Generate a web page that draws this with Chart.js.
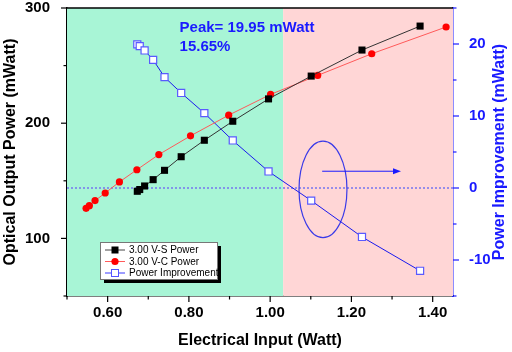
<!DOCTYPE html>
<html><head><meta charset="utf-8">
<script src="https://cdn.jsdelivr.net/npm/chart.js@4"></script>
<style>html,body{margin:0;padding:0;background:#fff}#wrap{width:512px;height:352px}</style>
</head><body><div id="wrap"><canvas id="c" width="512" height="352"></canvas></div>
<script>
// ---- data ----
const xVS  = [0.673,0.679,0.691,0.712,0.740,0.781,0.838,0.908,0.996,1.101,1.226,1.369];
const yVS  = [140.9,142.4,145.5,151.0,159.1,170.9,185.2,201.7,221.1,240.9,263.5,284.3];
const xVC  = [0.547,0.555,0.569,0.594,0.629,0.672,0.726,0.804,0.898,1.001,1.117,1.250,1.433];
const yVC  = [126.1,128.4,132.8,139.4,149.0,159.6,172.8,189.0,207.0,225.0,241.5,260.3,283.5];
const yImp = [19.95,19.7,19.1,17.8,15.4,13.2,10.4,6.6,2.3,-1.75,-6.8,-11.5];
const xTicks = [0.6,0.8,1.0,1.2,1.4];
const xMinor = [0.5,0.7,0.9,1.1,1.3];
const yTicks = [100,200,300];
const yMinor = [50,150,250];
const rTicks = [-10,0,10,20];
const rMinor = [-15,-5,5,15,25];
const seriesNames = ['3.00 V-S Power','3.00 V-C Power','Power Improvement'];
const rightTitle = 'Power Improvement (mWatt)';
const regionSplit = 1.032;
const peakText = ['Peak= 19.95 mWatt','15.65%'];

const BLUE = '#1a1aff';
const FAM = '"Liberation Sans", Arial, sans-serif';
const pts = (xs, ys) => xs.map((x,i)=>({x:x, y:ys[i]}));

const deco = {
  id:'deco',
  beforeDatasetsDraw(chart){
    const {ctx, chartArea:a, scales:{x, y1}} = chart;
    const xs = x.getPixelForValue(regionSplit);
    ctx.save();
    ctx.fillStyle = '#a8f5d6';
    ctx.fillRect(a.left, a.top, xs-a.left, a.bottom-a.top);
    ctx.fillStyle = '#ffd6d6';
    ctx.fillRect(xs, a.top, a.right-xs, a.bottom-a.top);
    const y0 = y1.getPixelForValue(0);
    ctx.strokeStyle = '#7676f0'; ctx.lineWidth = 1.5; ctx.setLineDash([2,2]);
    ctx.beginPath(); ctx.moveTo(a.left, y0); ctx.lineTo(a.right, y0); ctx.stroke();
    ctx.setLineDash([]);
    const cx = x.getPixelForValue(1.130), cy = y1.getPixelForValue(-0.2);
    const rx = x.getPixelForValue(1.130) - x.getPixelForValue(1.071);
    const ry = y1.getPixelForValue(-0.2) - y1.getPixelForValue(6.5);
    ctx.strokeStyle = '#3a3ae8'; ctx.lineWidth = 1.2;
    ctx.beginPath(); ctx.ellipse(cx, cy, rx, ry, 0, 0, Math.PI*2); ctx.stroke();
    const ax1 = x.getPixelForValue(1.128), ax2 = x.getPixelForValue(1.322), ay = y1.getPixelForValue(2.33);
    ctx.strokeStyle = BLUE; ctx.fillStyle = BLUE; ctx.lineWidth = 1;
    ctx.beginPath(); ctx.moveTo(ax1, ay); ctx.lineTo(ax2-6, ay); ctx.stroke();
    ctx.beginPath(); ctx.moveTo(ax2, ay); ctx.lineTo(ax2-8, ay-3); ctx.lineTo(ax2-8, ay+3); ctx.closePath(); ctx.fill();
    ctx.restore();
  },
  afterDraw(chart){
    const {ctx, chartArea:a, scales:{x, y, y1}} = chart;
    ctx.save();
    ctx.strokeStyle = '#000'; ctx.lineWidth = 1.5;
    ctx.beginPath(); ctx.moveTo(a.left, a.top); ctx.lineTo(a.right, a.top); ctx.stroke();
    ctx.lineWidth = 1.2;
    const tick = (vals, len, scale, side) => {
      vals.forEach(v=>{
        const p = scale.getPixelForValue(v);
        ctx.beginPath();
        if (side==='b'){ ctx.moveTo(p, a.bottom); ctx.lineTo(p, a.bottom+len); }
        if (side==='l'){ ctx.moveTo(a.left, p); ctx.lineTo(a.left-len, p); }
        if (side==='r'){ ctx.moveTo(a.right, p); ctx.lineTo(a.right+len, p); }
        ctx.stroke();
      });
    };
    ctx.strokeStyle = '#000';
    tick(xTicks, 6, x, 'b'); tick(xMinor, 3.5, x, 'b');
    tick(yTicks, 6, y, 'l'); tick(yMinor, 3.5, y, 'l');
    ctx.strokeStyle = BLUE;
    tick(rTicks, 6, y1, 'r'); tick(rMinor, 3.5, y1, 'r');
    ctx.save();
    ctx.fillStyle = BLUE; ctx.font = 'bold 16px ' + FAM;
    ctx.textAlign = 'center'; ctx.textBaseline = 'middle';
    ctx.translate(500, (a.top + a.bottom)/2); ctx.rotate(-Math.PI/2);
    ctx.fillText(rightTitle, 0, 0);
    ctx.restore();
    ctx.fillStyle = BLUE; ctx.font = 'bold 15px ' + FAM;
    ctx.textBaseline = 'alphabetic'; ctx.textAlign = 'left';
    const tx = x.getPixelForValue(0.777);
    ctx.fillText(peakText[0], tx, y.getPixelForValue(279.5));
    ctx.fillText(peakText[1], tx, y.getPixelForValue(262.5));
    const lx = 100, ly = 242, lw = 117, lh = 37;
    ctx.fillStyle = '#000'; ctx.fillRect(lx+4, ly+4, lw, lh);
    ctx.fillStyle = '#fff'; ctx.fillRect(lx, ly, lw, lh);
    ctx.strokeStyle = '#777'; ctx.lineWidth = 1; ctx.strokeRect(lx+0.5, ly+0.5, lw, lh);
    const rows = [250, 261.5, 273];
    const lineC = ['#444','#ff5a5a','#3a3aff'];
    ctx.font = '10px ' + FAM; ctx.textBaseline = 'middle';
    rows.forEach((ry,i)=>{
      ctx.strokeStyle = lineC[i]; ctx.lineWidth = 1;
      ctx.beginPath(); ctx.moveTo(105, ry); ctx.lineTo(125, ry); ctx.stroke();
      if (i===0){ ctx.fillStyle='#000'; ctx.fillRect(111.5, ry-3.5, 7, 7); }
      if (i===1){ ctx.fillStyle='#ff0000'; ctx.beginPath(); ctx.arc(115, ry, 3.6, 0, Math.PI*2); ctx.fill(); }
      if (i===2){ ctx.fillStyle='#fff'; ctx.fillRect(111.5, ry-3.5, 7, 7); ctx.strokeStyle='#5555ff'; ctx.strokeRect(111.5, ry-3.5, 7, 7); }
      ctx.fillStyle = '#000'; ctx.fillText(seriesNames[i], 129, ry+0.5);
    });
    ctx.restore();
  }
};

const tickFont = {family:FAM, size:15, weight:'bold'};
const titleFont = {family:FAM, size:16, weight:'bold'};
const fixV = w => s => { s.width = w; s.paddingTop = 0; s.paddingBottom = 0; };

new Chart(document.getElementById('c'), {
  type:'scatter',
  data:{datasets:[
    {label:seriesNames[0], data:pts(xVS,yVS), yAxisID:'y', showLine:true, borderColor:'#333', borderWidth:1,
     pointStyle:'rect', pointRadius:5, backgroundColor:'#000', pointBorderColor:'#000', pointBorderWidth:0},
    {label:seriesNames[1], data:pts(xVC,yVC), yAxisID:'y', showLine:true, borderColor:'#ff5a5a', borderWidth:1,
     pointStyle:'circle', pointRadius:3.6, backgroundColor:'#ff0000', pointBorderColor:'#ff0000', pointBorderWidth:0},
    {label:seriesNames[2], data:pts(xVS,yImp), yAxisID:'y1', showLine:true, borderColor:'#1a1aee', borderWidth:1,
     pointStyle:'rect', pointRadius:5, backgroundColor:'#fff', pointBackgroundColor:'#fff', pointBorderColor:'#5a5aff', pointBorderWidth:1.2}
  ]},
  options:{
    responsive:false, animation:false, devicePixelRatio:1,
    layout:{padding:{top:8,left:0,right:0,bottom:0}},
    plugins:{legend:{display:false}, tooltip:{enabled:false}},
    scales:{
      x:{type:'linear', position:'bottom', min:0.5, max:1.45,
         afterBuildTicks:s=>{s.ticks = xTicks.map(v=>({value:v}));},
         afterFit:s=>{s.height = 56; s.paddingLeft = 0; s.paddingRight = 0;},
         grid:{display:false}, border:{display:true, color:'#000', width:1.5},
         ticks:{color:'#000', font:tickFont, padding:0, maxRotation:0, autoSkip:false, callback:v=>Number(v).toFixed(2)},
         title:{display:true, text:'Electrical Input (Watt)', color:'#000', font:titleFont, padding:{top:0,bottom:2}}},
      y:{type:'linear', position:'left', min:50, max:300,
         afterBuildTicks:s=>{s.ticks = yTicks.map(v=>({value:v}));},
         afterFit:fixV(67),
         grid:{display:false}, border:{display:true, color:'#000', width:1.5},
         ticks:{color:'#000', font:tickFont, padding:9, autoSkip:false},
         title:{display:true, text:'Optical Output Power (mWatt)', color:'#000', font:titleFont, padding:{top:1,bottom:0}}},
      y1:{type:'linear', position:'right', min:-15, max:25,
         afterBuildTicks:s=>{s.ticks = rTicks.map(v=>({value:v}));},
         afterFit:fixV(59),
         grid:{display:false}, border:{display:true, color:BLUE, width:1.5},
         ticks:{color:BLUE, font:tickFont, padding:8, autoSkip:false},
         title:{display:false}}
    }
  },
  plugins:[deco]
});
</script>
</body></html>
